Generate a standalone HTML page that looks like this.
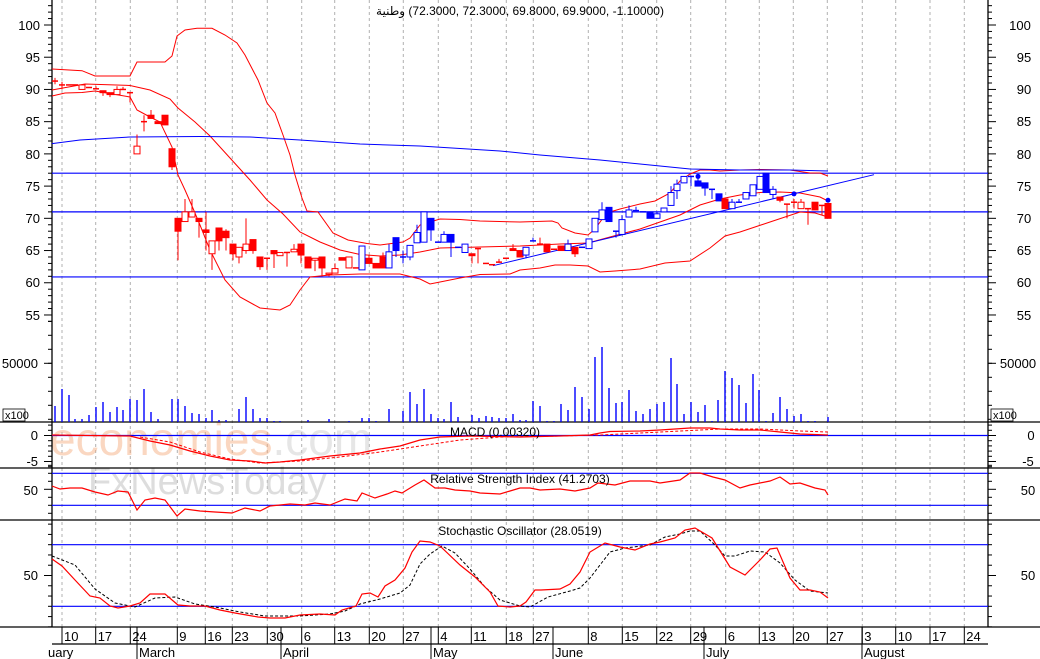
<!DOCTYPE html>
<html><head><meta charset="utf-8"><style>
html,body{margin:0;padding:0;background:#fff;}
svg{display:block;font-family:"Liberation Sans","DejaVu Sans",sans-serif;}
</style></head><body>
<svg id="s" width="1040" height="659" viewBox="0 0 1040 659" xmlns="http://www.w3.org/2000/svg">
<rect width="1040" height="659" fill="#fff"/>
<g id="grid"></g>
<g font-size="46" opacity="0.45">
<text x="50" y="455" fill="#f5a878">economies<tspan fill="#c8c8c8">.com</tspan></text>
</g>
<text x="88" y="494" font-size="38" fill="#c8c8c8" opacity="0.6">FxNewsToday</text>
<g id="ov"></g>
<text x="520" y="15" font-size="12" text-anchor="middle" fill="#000" direction="ltr" style="unicode-bidi:embed">&#x200E;وطنية&#x200E; (72.3000, 72.3000, 69.8000, 69.9000, -1.10000)&#x200E;</text>
<g font-size="12" fill="#000" text-anchor="middle">
<text x="495" y="436">MACD (0.00320)</text>
<text x="520" y="483">Relative Strength Index (41.2703)</text>
<text x="520" y="535">Stochastic Oscillator (28.0519)</text>
</g>
<g font-size="13" fill="#000" id="labels">
<text x="40" y="30" text-anchor="end">100</text><text x="40" y="62" text-anchor="end">95</text><text x="40" y="94" text-anchor="end">90</text><text x="40" y="126" text-anchor="end">85</text><text x="40" y="159" text-anchor="end">80</text><text x="40" y="191" text-anchor="end">75</text><text x="40" y="223" text-anchor="end">70</text><text x="40" y="255" text-anchor="end">65</text><text x="40" y="287" text-anchor="end">60</text><text x="40" y="320" text-anchor="end">55</text>
<text x="38" y="368" text-anchor="end">50000</text>
<text x="38" y="440" text-anchor="end">0</text><text x="38" y="466" text-anchor="end">-5</text>
<text x="38" y="495" text-anchor="end">50</text><text x="38" y="580" text-anchor="end">50</text>
<text x="1020" y="30" text-anchor="middle">100</text><text x="1024" y="62" text-anchor="middle">95</text><text x="1024" y="94" text-anchor="middle">90</text><text x="1024" y="126" text-anchor="middle">85</text><text x="1024" y="159" text-anchor="middle">80</text><text x="1024" y="191" text-anchor="middle">75</text><text x="1024" y="223" text-anchor="middle">70</text><text x="1024" y="255" text-anchor="middle">65</text><text x="1024" y="287" text-anchor="middle">60</text><text x="1024" y="320" text-anchor="middle">55</text>
<text x="1018" y="368" text-anchor="middle">50000</text>
<text x="1031" y="440" text-anchor="middle">0</text><text x="1028" y="466" text-anchor="middle">-5</text>
<text x="1028" y="495" text-anchor="middle">50</text><text x="1028" y="580" text-anchor="middle">50</text>
</g>
<g font-size="11" fill="#000">
<rect x="3" y="409" width="22" height="12" fill="#fff" stroke="#000" stroke-width="0.8"/><text x="5" y="419">x100</text>
<rect x="991" y="409" width="22" height="12" fill="#fff" stroke="#000" stroke-width="0.8"/><text x="993" y="419">x100</text>
</g>
<g id="dates" font-size="13" fill="#000"></g>
</svg>
<script>
const NS="http://www.w3.org/2000/svg";
const G=document.getElementById('grid'),O=document.getElementById('ov'),D=document.getElementById('dates');
function el(p,t,a){const e=document.createElementNS(NS,t);for(const k in a)e.setAttribute(k,a[k]);p.appendChild(e);return e;}
function ln(p,x1,y1,x2,y2,c,w,da){const a={x1,y1,x2,y2,stroke:c,'stroke-width':w||1};if(da)a['stroke-dasharray']=da;return el(p,'line',a);}
const Y=p=>25+(100-p)*6.444;
const grid=[62,95.7,130.3,177.3,205.3,232.3,267.3,301.7,334.7,369.3,403.3,438.3,471.3,506.3,533.3,588.3,622.3,656.7,690.7,725.7,759.3,793.3,827.3,862.3,895.7,930,964.3];
grid.forEach(x=>{ln(G,x,0,x,627,'#b0b0b0',1,'3,3');ln(G,x,627,x,644,'#000',1);});
const lbl=["10","17","24","9","16","23","30","6","13","20","27","4","11","18","27","8","15","22","29","6","13","20","27","3","10","17","24"];
grid.forEach((x,i)=>{const t=el(D,'text',{x:x+2,y:641});t.textContent=lbl[i];});
[[137,'March'],[281,'April'],[431,'May'],[553,'June'],[704,'July'],[862,'August']].forEach(([x,m])=>{ln(D,x,627,x,659,'#000',1);const t=el(D,'text',{x:x+2,y:657});t.textContent=m;});
const t0=el(D,'text',{x:48,y:657});t0.textContent='uary';
ln(O,52,0,52,627,'#000',1.3);ln(O,988,0,988,627,'#000',1.3);
[422,468,520,627].forEach(y=>ln(O,0,y,1040,y,'#000',1.3));
ln(O,52,644,988,644,'#000',1.3);
for(let p=54;p<=103;p++){const y=Y(p),M=p%5==0;ln(O,M?44:48,y,52,y,'#000',1);ln(O,988,y,M?996:992,y,'#000',1);}
for(let y=363.3-3*14;y<422;y+=14){ln(O,48,y,52,y,'#000',1);ln(O,988,y,992,y,'#000',1);}
ln(O,44,363.3,52,363.3,'#000',1);ln(O,988,363.3,996,363.3,'#000',1);
for(let v=2;v>=-6;v--){const y=435.5-v*5.2,M=v%5==0;ln(O,M?44:48,y,52,y,'#000',1);ln(O,988,y,M?996:992,y,'#000',1);}
for(let v=80;v>=20;v-=10){const y=489.3-(v-50)*0.8;ln(O,v==50?44:48,y,52,y,'#000',1);ln(O,988,y,v==50?996:992,y,'#000',1);}
for(let v=100;v>=0;v-=10){const y=575.5-(v-50)*1.027;if(y>522&&y<627){ln(O,v==50?44:48,y,52,y,'#000',1);ln(O,988,y,v==50?996:992,y,'#000',1);}}
[77,71,60.9].forEach(p=>ln(O,52,Y(p),988,Y(p),'#0000ff',1.2));
ln(O,52,435.5,988,435.5,'#0000ff',1.2);
ln(O,52,473.3,988,473.3,'#0000ff',1.2);ln(O,52,505.3,988,505.3,'#0000ff',1.2);
ln(O,52,544.7,988,544.7,'#0000ff',1.2);ln(O,52,606.3,988,606.3,'#0000ff',1.2);
function pl(pts,c,w,da){const a={points:pts.map(p=>p.join(',')).join(' '),fill:'none',stroke:c,'stroke-width':w||1};if(da)a['stroke-dasharray']=da;el(O,'polyline',a);}
pl([[52,69],[82,70.7],[95,76],[130,76],[137,62],[165,62],[172,56],[177,36],[185,30],[197,28.3],[212,28.3],[225,35],[237,43],[245,55],[258,80],[267,103],[275,113],[283,135],[290,155],[295,175],[302,198],[307,211],[318,212],[333,233],[348,240],[367,243.5],[380,245],[403,242],[410,238],[420,225],[430,222],[440,219],[460,219.5],[480,221],[520,222],[552,221],[558,223],[562,228],[575,233],[588,235],[595,229],[603,218],[610,212],[620,209],[640,204],[655,201],[670,193],[680,181],[690,174],[700,170],[710,170],[720,171],[740,170],[760,169.5],[790,170],[810,173],[820,173],[828,176]],'#ff0000');
pl([[52,90],[85,84],[130,85.5],[150,90],[170,99],[178,108],[195,122],[210,136],[230,158],[250,180],[267,200],[283,214],[300,232],[320,242],[340,250],[360,254.5],[380,256],[400,255],[420,252],[440,248],[480,247],[520,246],[560,244],[588,243],[610,237],[640,229],[680,215],[700,205],[720,199],[740,195],[760,192.5],[780,192],[800,193],[820,197],[828,201]],'#ff0000');
pl([[52,96],[65,93],[82,92.5],[95,91],[130,97],[137,110],[150,117],[160,122],[172,147],[178,175],[185,190],[192,206],[200,225],[210,250],[225,280],[240,297],[260,308],[280,310],[290,305],[300,290],[310,277],[330,275],[360,274],[400,274],[420,279],[430,284],[440,282],[460,278],[480,274.5],[510,274],[520,270],[540,268],[555,265],[570,265],[588,266],[600,272],[615,271],[640,269],[665,263],[690,261],[710,248],[725,236],[740,232],[770,222],[800,212],[815,213],[828,217]],'#ff0000');
pl([[52,143.6],[80,140],[130,137],[200,136.5],[250,137],[300,140],[360,144],[420,146],[500,151],[540,155],[600,160],[650,165],[690,169],[740,170],[790,170],[828,171]],'#0000ff');
ln(O,493,265.7,874,174.7,'#0000ff',1);
const C=[[55,91.3,91.3,91.8,90.8,'r'],[62,90.7,90.7,91.2,90,'r'],[69,90.7,90.7,,,'r'],[75,90.7,90.7,,,'r'],[82,90.7,90,,,'r'],[89,90.3,90.3,,,'r'],[96,90.1,90.1,90.5,,'r'],[103,89.8,89.5,,89,'R'],[110,89.5,89.2,,88.8,'R'],[117,90,89.2,90.5,,'r'],[123,90,90,90.4,,'r'],[130,89.5,89.5,,88,'r'],[137,81.2,80,83,80.5,'r'],[144,85,85,86,83.5,'r'],[151,86,85.5,86.8,,'R'],[158,85,84.7,,,'R'],[165,86,84.5,,,'R'],[172,80.8,78,,77.5,'R'],[178,70,68,,63.5,'R'],[185,71,69.5,73,,'r'],[192,71,70.2,73,,'r'],[199,70,69.5,,67,'R'],[206,68.2,67.8,71,65,'R'],[212,66.5,64.5,,62,'r'],[219,68.5,66.5,,65,'R'],[226,68,67,68.3,65,'R'],[233,66,64.5,,63.5,'R'],[239,65.5,64,,63,'r'],[246,66,65,70,64.5,'r'],[253,66.7,65,,64.5,'R'],[260,64,62.5,,62,'R'],[267,63.8,63.8,,62,'r'],[274,65,64.5,,62.3,'R'],[280,64.7,64.2,,,'r'],[287,64.7,64.7,,62.5,'r'],[294,65.2,64.8,66,,'r'],[301,66,64.3,,63,'R'],[308,64,62.3,,,'R'],[315,63.8,63.5,,61.8,'r'],[322,64,62.3,,61,'R'],[329,61.5,61.3,,61,'r'],[335,62.2,61.5,63,,'r'],[342,63.9,63.5,,,'R'],[349,64,62.3,,,'r'],[356,62.3,62.3,,,'r'],[362,65.7,62,,,'b'],[369,63.8,63,64.3,,'R'],[376,63,62.3,,,'R'],[383,64,62.3,64.7,,'R'],[389,64.8,62.3,66,,'b'],[396,67,65,,64,'B'],[403,64,64,65,63,'b'],[410,65.8,64,,63.5,'b'],[417,67.8,66.2,69,,'b'],[424,71,66.3,,,'b'],[431,70,68.2,,66.5,'B'],[438,66.3,66.3,,,'b'],[444,67.5,66.3,68,,'b'],[451,67.5,66.3,,64,'B'],[458,65.5,65.5,,,'b'],[465,66,64.7,,,'b'],[472,64.5,64.2,,63,'R'],[478,65.3,65.3,,63,'r'],[486,63,63,,,'r'],[492,62.8,62.8,,,'r'],[499,63.2,63.2,63.7,,'r'],[506,63.8,63.8,,,'r'],[513,65.3,65,66,,'R'],[520,65,64,,,'R'],[526,65.5,64.3,,63.8,'b'],[533,66.5,66.5,67,,'b'],[540,66,66,67,,'r'],[547,66,64.8,,,'R'],[554,65.2,65.2,,,'r'],[561,65.7,65,,,'R'],[568,66,65,66.7,,'b'],[575,65.5,64.5,,64,'R'],[582,65.5,65.5,,,'b'],[589,66.8,65.3,,,'b'],[595,70,67.9,,,'b'],[602,71.3,69.8,72.5,,'b'],[609,71.7,69.5,,,'B'],[616,68,68,,67,'b'],[622,69.8,67.5,70.5,,'b'],[629,71.3,70.2,72,,'b'],[636,71.2,71.2,71.8,,'b'],[643,71,71,,,'b'],[650,71,70,,,'B'],[657,70.7,70,71,,'b'],[664,71.6,71,,,'b'],[671,74,72,75,,'b'],[677,75.3,74.3,76,73,'b'],[684,76.5,75.5,,,'b'],[691,76.5,76.5,,75,'b'],[698,75.8,75,76.5,,'B'],[705,75.5,74.7,,73.5,'B'],[712,74.5,74.5,,73,'b'],[719,73.8,72.7,,,'B'],[725,73,71.5,,,'R'],[732,72.5,71.5,73,,'b'],[739,72.5,72.5,73,,'b'],[746,74,73,,,'b'],[753,75.2,73.5,,,'b'],[760,76.5,74.5,,,'b'],[766,77,74,,,'B'],[773,74.5,73.7,75,73,'b'],[780,73.3,72.8,,72.5,'R'],[787,72.2,72.2,,70,'r'],[794,72.5,72.5,73,71.5,'r'],[801,72.5,71.5,73,,'r'],[808,71.5,71.5,,69,'r'],[815,72.5,71.3,,,'R'],[822,72,72,,70.5,'r'],[828,72.3,70,,,'R']];
C.forEach(([x,a,b,h,l,t])=>{const c=t.toLowerCase()=='r'?'#ff0000':'#0000ff',f=t==t.toUpperCase();
 const top=Math.max(a,b),bot=Math.min(a,b);h=h||top;l=l||bot;
 ln(O,x,Y(h),x,Y(l),c,1);
 if(top-bot<0.15){ln(O,x-3,Y(top),x+3,Y(top),c,1.5);}
 else el(O,'rect',{x:x-3,y:Y(top),width:6,height:Y(bot)-Y(top),fill:f?c:'#fff',stroke:c,'stroke-width':1});});
[[698,76.5],[794,73.8],[828,72.8]].forEach(([x,p])=>el(O,'circle',{cx:x,cy:Y(p),r:2.5,fill:'#0000ff'}));
const V=[[55,406],[62,389],[69,395],[75,419],[82,419],[89,415],[96,407],[103,402],[110,412],[117,407],[123,410],[130,399],[137,400],[144,389],[151,412],[158,419],[172,399],[178,399],[185,406],[192,413],[199,414],[206,418],[212,410],[219,420],[226,420],[239,409],[246,397],[253,409],[260,418],[267,418],[274,421],[280,421],[308,420],[329,419],[349,421],[362,418],[369,418],[376,421],[389,409],[403,411],[410,392],[417,404],[424,389],[431,414],[438,418],[444,419],[451,402],[458,417],[472,415],[479,418],[486,416],[492,417],[499,418],[506,418],[513,414],[520,420],[526,420],[533,401],[540,406],[547,421],[554,421],[561,404],[568,410],[575,387],[582,397],[589,409],[595,357],[602,347],[609,388],[616,403],[622,402],[629,390],[636,411],[643,414],[650,409],[657,404],[664,402],[671,358],[677,384],[684,414],[691,402],[698,412],[705,405],[712,421],[718,400],[725,371],[732,378],[739,385],[746,403],[753,374],[759,390],[766,421],[773,413],[780,397],[787,409],[794,416],[801,414],[808,421],[815,421],[828,417]];
V.forEach(([x,y])=>ln(O,x,y,x,422,'#0000ff',1.4));
pl([[52,435],[130,436],[150,441],[170,445],[190,451],[210,456],[230,460],[250,461],[265,463],[280,462],[300,460],[330,456],[360,453],[380,449],[400,446],[420,440],[440,437],[470,436],[520,437],[560,436],[590,435],[600,433],[610,431.5],[640,431],[660,430],[690,428],[710,428],[720,429],[740,430],[760,430],[780,432],[800,434],[828,435]],'#ff0000',1.2);
pl([[140,437],[170,442],[200,452],[230,459],[260,463],[300,461],[340,457],[380,452],[420,446],[460,440],[500,437],[560,436],[600,435],[640,433],[680,431],[720,429],[760,429],[800,431],[828,432]],'#ff0000',1,'3,2');
pl([[52,486],[60,489],[70,488],[82,488],[95,492],[108,495],[118,491],[128,492],[137,510],[145,500],[155,498],[165,500],[177,516],[185,509],[200,511],[215,512],[232,513],[245,508],[260,511],[270,506],[290,504],[305,505],[315,503],[330,505],[345,499],[357,501],[362,493],[375,498],[387,494],[395,491],[402,493],[415,485],[424,480],[435,488],[445,488],[455,490],[470,491],[480,493],[500,494],[510,491],[520,488],[530,488],[540,490],[560,489],[575,491],[590,488],[598,483],[615,485],[630,481],[650,481],[660,483],[680,480],[690,473],[700,473],[713,477],[725,480],[740,488],[750,485],[770,481],[780,477],[790,484],[800,483],[815,488],[825,490],[828,495]],'#ff0000',1.2);
pl([[52,556],[75,565],[95,589],[115,603],[135,607],[155,598],[175,597],[195,604],[215,607],[240,612],[265,616],[285,616],[300,616],[330,614],[345,611],[360,604],[380,599],[400,593],[410,585],[420,564],[430,554],[442,546],[455,553],[470,569],[485,587],[500,600],[520,606],[530,607],[548,597],[570,591],[580,588],[590,578],[600,565],[610,552],[625,548],[650,545],[665,537],[680,534],[690,531],[700,531],[715,545],[725,556],[735,556],[750,551],[765,552],[780,563],[795,580],[810,591],[828,593]],'#000',1,'3,2');
pl([[52,559],[62,566],[75,580],[90,596],[100,598],[110,606],[118,608],[130,606],[140,603],[150,594],[165,594],[178,605],[190,606],[205,606],[220,610],[235,613],[258,617],[270,618],[285,618],[300,615],[320,614],[335,615],[342,610],[356,606],[362,594],[370,593],[378,597],[385,586],[395,580],[405,568],[412,552],[420,541],[430,542],[440,546],[460,565],[475,577],[490,592],[498,606],[510,607],[520,606],[526,602],[535,590],[541,590],[560,589],[570,584],[580,572],[590,552],[605,543],[620,547],[635,550],[650,544],[660,542],[675,538],[685,530],[695,528],[712,538],[730,567],[745,575],[760,560],[770,549],[777,548],[790,578],[800,590],[810,590],[820,592],[828,598]],'#ff0000',1.2);
</script>
</body></html>
